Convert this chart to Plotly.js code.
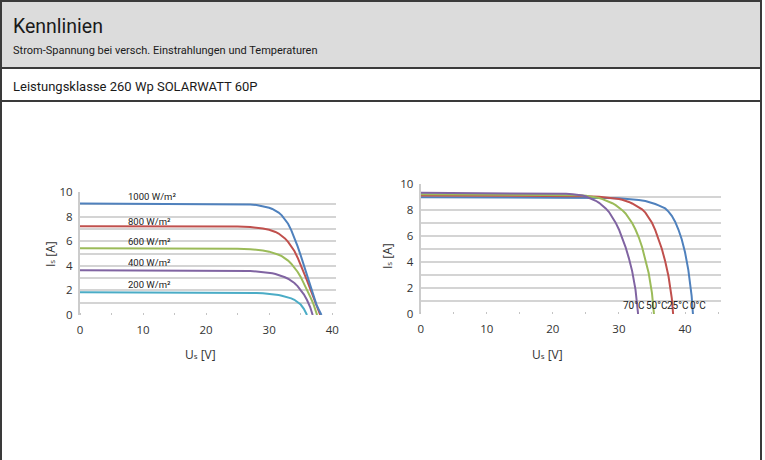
<!DOCTYPE html>
<html>
<head>
<meta charset="utf-8">
<script src="https://cdn.plot.ly/plotly-3.0.1.min.js"></script>
<style>html,body{margin:0;padding:0;background:#fff;}#chart{width:765px;height:460px;}</style>
</head>
<body>
<div id="chart"></div>
<script>
// Left chart: irradiance curves (U in V, I in A)
const irrLabels = ["1000 W/m²", "800 W/m²", "600 W/m²", "400 W/m²", "200 W/m²"];
const u1000 = [0,10,20,25,27,28,29,29.5,30,30.5,31,31.5,32,32.5,33,33.5,34,34.5,35,35.5,36,36.5,37,37.5,38,38.3];
const i1000 = [9.06,9.05,9.04,9.02,8.98,8.94,8.86,8.8,8.72,8.62,8.5,8.33,8.1,7.8,7.42,6.9,6.3,5.6,4.85,4.05,3.22,2.4,1.6,0.85,0.3,0];
const u800 = [0,10,20,25,27,28,29,30,30.5,31,31.5,32,32.5,33,33.5,34,34.5,35,35.5,36,36.5,37,37.5,38.1];
const i800 = [7.22,7.22,7.21,7.19,7.15,7.11,7.04,6.93,6.85,6.75,6.62,6.45,6.23,5.95,5.6,5.2,4.68,4.1,3.48,2.82,2.15,1.47,0.8,0];
const u600 = [0,10,20,25,27,28,29,30,30.5,31,31.5,32,32.5,33,33.5,34,34.5,35,35.5,36,36.5,37,37.6];
const i600 = [5.42,5.42,5.41,5.39,5.35,5.31,5.25,5.15,5.08,5.0,4.9,4.78,4.62,4.42,4.17,3.88,3.52,3.1,2.6,2.05,1.5,0.92,0];
const u400 = [0,10,20,25,27,28,29,30,30.5,31,31.5,32,32.5,33,33.5,34,34.5,35,35.5,36,36.5,36.9];
const i400 = [3.63,3.63,3.62,3.6,3.57,3.54,3.5,3.43,3.39,3.33,3.26,3.18,3.07,2.95,2.79,2.6,2.35,2.05,1.68,1.22,0.65,0];
const u200 = [0,10,20,25,27,28,29,30,30.5,31,31.5,32,32.5,33,33.5,34,34.5,35,35.5,36];
const i200 = [1.85,1.85,1.84,1.83,1.81,1.79,1.76,1.72,1.69,1.66,1.62,1.57,1.51,1.44,1.35,1.24,1.08,0.85,0.5,0];
const irrLabelX = [7.3, 7.3, 7.3, 7.3, 7.3];
const irrLabelY = [9.62, 7.59, 5.96, 4.25, 2.49];

// Right chart: temperature curves
const tempLabels = ["70°C", "50°C", "25°C", "0°C"];
const u70 = [0,10,20,22,23,24,24.5,25,25.5,26,26.5,27,27.5,28,28.5,29,29.5,30,30.5,31,31.5,32,32.5,32.9];
const i70 = [9.32,9.31,9.28,9.25,9.22,9.16,9.11,9.04,8.95,8.84,8.71,8.55,8.35,8.12,7.84,7.48,7.03,6.5,5.88,5.15,4.3,3.3,1.9,0];
const u50 = [0,10,20,24,25,26,26.5,27,27.5,28,28.5,29,29.5,30,30.5,31,31.5,32,32.5,33,33.5,34,34.5,35,35.3];
const i50 = [9.22,9.21,9.19,9.14,9.1,9.03,8.98,8.92,8.84,8.75,8.64,8.52,8.37,8.2,7.99,7.73,7.4,7.0,6.5,5.9,5.15,4.25,3.15,1.6,0];
const u25 = [0,10,20,25,27,28,29,30,30.5,31,31.5,32,32.5,33,33.5,34,34.5,35,35.5,36,36.5,37,37.5,38,38.2];
const i25 = [9.12,9.11,9.1,9.06,9.02,8.98,8.93,8.85,8.79,8.72,8.62,8.5,8.36,8.2,8.05,7.8,7.45,7.02,6.45,5.8,5.0,4.05,2.9,1.2,0];
const u0 = [0,10,20,25,28,30,31,32,33,34,34.5,35,35.5,36,36.5,37,37.5,38,38.5,39,39.5,40,40.5,41,41.2];
const i0 = [8.98,8.98,8.97,8.95,8.93,8.9,8.87,8.83,8.77,8.69,8.63,8.55,8.46,8.36,8.25,8.12,7.88,7.55,7.1,6.5,5.75,4.75,3.4,1.4,0];
const tempLabelX = [32.3, 35.7, 38.9, 41.9];
const tempLabelY = [0.69, 0.69, 0.69, 0.69];

const xTicks = [0,10,20,30,40];
const yTicks = [0,2,4,6,8,10];

const W = 765, H = 460;
const px = v => v / W;
const py = v => 1 - v / H;

const cBlue = "#4f81bd", cRed = "#c0504d", cGreen = "#9bbb59", cPurple = "#8064a2", cCyan = "#4bacc6";

function line(x, y, color, xa, ya) {
  return {x: x, y: y, type: "scatter", mode: "lines", xaxis: xa, yaxis: ya,
          line: {color: color, width: 2},
          hoverinfo: "skip", showlegend: false, cliponaxis: false};
}

const traces = [
  line(u200, i200, cCyan, "x", "y"),
  line(u400, i400, cPurple, "x", "y"),
  line(u600, i600, cGreen, "x", "y"),
  line(u800, i800, cRed, "x", "y"),
  line(u1000, i1000, cBlue, "x", "y"),
  line(u0, i0, cBlue, "x2", "y2"),
  line(u25, i25, cRed, "x2", "y2"),
  line(u50, i50, cGreen, "x2", "y2"),
  line(u70, i70, cPurple, "x2", "y2")
];

const tickFont = {family: "Open Sans, Liberation Sans, sans-serif", size: 11.5, color: "#333333"};
const gridC = "#d4d4d4";

function xAxis(domain, range) {
  return {domain: domain, range: range, tickvals: xTicks, showgrid: false, zeroline: false,
          showline: false, ticks: "outside", ticklen: 4, tickcolor: "rgba(0,0,0,0)",
          tickfont: tickFont, fixedrange: true,
          minor: {dtick: 5, ticks: "inside", ticklen: 2, tickcolor: "#c4c4c4", showgrid: false}};
}
function yAxis(domain, anchor) {
  return {domain: domain, range: [0, 10], tickvals: yTicks, showgrid: true, gridcolor: gridC, gridwidth: 2,
          zeroline: false, showline: true, linecolor: "#cccccc", linewidth: 2, anchor: anchor,
          ticks: "outside", ticklen: 3, tickcolor: "rgba(0,0,0,0)",
          tickfont: tickFont, fixedrange: true,
          minor: {dtick: 1, showgrid: true, gridcolor: gridC, gridwidth: 2}};
}

const hdrFont = "Roboto, Open Sans, sans-serif";
const annFont = "Roboto, sans-serif";
function paperText(x, y, text, size, family, extra) {
  return Object.assign({xref: "paper", yref: "paper", x: px(x), y: py(y), xanchor: "left", yanchor: "middle",
    showarrow: false, text: text, font: {family: family, size: size, color: "#1a1a1a"}}, extra || {});
}
const iTitle = "I<span style='font-size:8px'>s</span> [A]";
const uTitle = "U<span style='font-size:8px'>s</span> [V]";
const annotations = [
  paperText(11, 26, "Kennlinien", 19.5, hdrFont),
  paperText(11, 50, "Strom-Spannung bei versch. Einstrahlungen und Temperaturen", 11, hdrFont),
  paperText(11, 86, "Leistungsklasse 260 Wp SOLARWATT 60P", 13, hdrFont),
  paperText(50, 254, iTitle, 12, tickFont.family, {xanchor: "center", textangle: -90}),
  paperText(200, 354, uTitle, 12, tickFont.family, {xanchor: "center"}),
  paperText(387, 256, iTitle, 12, tickFont.family, {xanchor: "center", textangle: -90}),
  paperText(547, 354, uTitle, 12, tickFont.family, {xanchor: "center"})
];
annotations.slice(3).forEach(a => a.font.color = "#333333");
irrLabels.forEach((t, k) => annotations.push({xref: "x", yref: "y", x: irrLabelX[k], y: irrLabelY[k],
  xanchor: "left", yanchor: "middle", showarrow: false, text: t, font: {family: annFont, size: 9.5, color: "#222"}}));
tempLabels.forEach((t, k) => annotations.push({xref: "x2", yref: "y2", x: tempLabelX[k], y: tempLabelY[k],
  xanchor: "center", yanchor: "middle", showarrow: false, text: t, font: {family: annFont, size: 10, color: "#222"}}));

const bc = "#3a3a3a";
const shapes = [
  {type: "rect", xref: "paper", yref: "paper", x0: px(1), x1: px(761), y0: py(68), y1: py(1),
   fillcolor: "#dcdcdc", line: {color: bc, width: 2}, layer: "below"},
  {type: "rect", xref: "paper", yref: "paper", x0: px(1), x1: px(761), y0: py(101), y1: py(68),
   fillcolor: "#ffffff", line: {color: bc, width: 2}, layer: "below"},
  {type: "rect", xref: "paper", yref: "paper", x0: px(1), x1: px(761), y0: py(470), y1: py(101),
   fillcolor: "rgba(0,0,0,0)", line: {color: bc, width: 2}, layer: "below"}
];

const layout = {
  width: W, height: H, margin: {l: 0, r: 0, t: 0, b: 0},
  paper_bgcolor: "#ffffff", plot_bgcolor: "rgba(0,0,0,0)", showlegend: false,
  xaxis: xAxis([px(80), px(336)], [0, 40.6]),
  yaxis: yAxis([py(315), py(192)], "x"),
  xaxis2: Object.assign(xAxis([px(420.7), px(720.7)], [0, 45.4]), {anchor: "y2"}),
  yaxis2: yAxis([py(314), py(184)], "x2"),
  annotations: annotations, shapes: shapes
};

Plotly.newPlot("chart", traces, layout, {staticPlot: true, displayModeBar: false});
</script>
</body>
</html>
